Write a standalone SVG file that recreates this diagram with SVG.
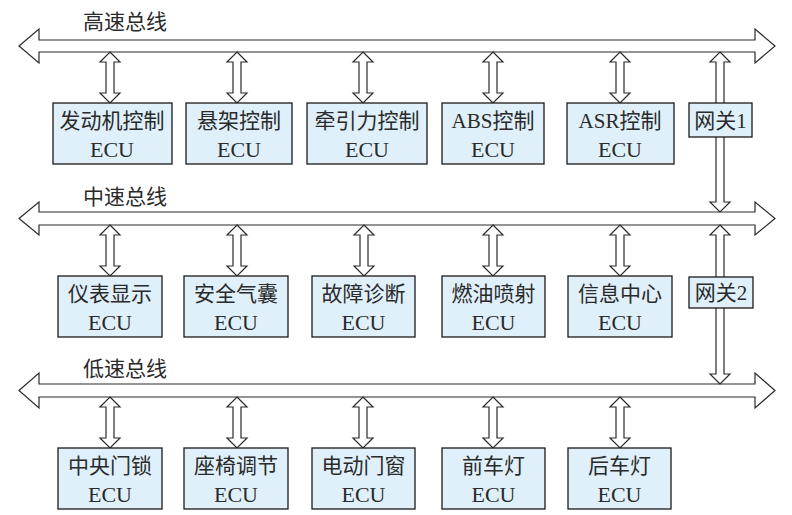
<svg xmlns="http://www.w3.org/2000/svg" width="792" height="515" viewBox="0 0 792 515">
<style>
.bus,.arr{fill:#fff;stroke:#2a2a2a;stroke-width:1.2;stroke-linejoin:miter}
.box{fill:#dff0fa;stroke:#1a1a1a;stroke-width:1.3}
.t{font-family:"Liberation Serif","Noto Sans CJK SC",serif;font-size:21px;fill:#2a2a2a;text-anchor:middle}
.e{font-size:22px}
.lbl{font-family:"Liberation Serif","Noto Sans CJK SC",serif;font-size:21px;fill:#2a2a2a}
</style>
<rect width="792" height="515" fill="#fff"/>
<g id="connectors">
<polygon id="bus-high" class="bus" points="19,46 39,29 39,40 755,40 755,29 775,46 755,63 755,52 39,52 39,63"/>
<polygon id="bus-mid" class="bus" points="19,218.5 39,202 39,212 755,212 755,202 775,218.5 755,235 755,225 39,225 39,235"/>
<polygon id="bus-low" class="bus" points="19,390.5 39,373 39,384 755,384 755,373 775,390.5 755,408 755,397 39,397 39,408"/>
<polygon class="arr" points="110,52 120,62 114,62 114,93 120,93 110,103 100,93 106,93 106,62 100,62"/>
<polygon class="arr" points="237,52 247,62 241,62 241,93 247,93 237,103 227,93 233,93 233,62 227,62"/>
<polygon class="arr" points="363,52 373,62 367,62 367,93 373,93 363,103 353,93 359,93 359,62 353,62"/>
<polygon class="arr" points="493,52 503,62 497,62 497,93 503,93 493,103 483,93 489,93 489,62 483,62"/>
<polygon class="arr" points="620,52 630,62 624,62 624,93 630,93 620,103 610,93 616,93 616,62 610,62"/>
<polygon class="arr" points="720,52 730,62 724,62 724,202 730,202 720,212 710,202 716,202 716,62 710,62"/>
<polygon class="arr" points="110,225 120,235 114,235 114,266 120,266 110,276 100,266 106,266 106,235 100,235"/>
<polygon class="arr" points="237,225 247,235 241,235 241,266 247,266 237,276 227,266 233,266 233,235 227,235"/>
<polygon class="arr" points="364,225 374,235 368,235 368,266 374,266 364,276 354,266 360,266 360,235 354,235"/>
<polygon class="arr" points="493,225 503,235 497,235 497,266 503,266 493,276 483,266 489,266 489,235 483,235"/>
<polygon class="arr" points="620,225 630,235 624,235 624,266 630,266 620,276 610,266 616,266 616,235 610,235"/>
<polygon class="arr" points="720,225 730,235 724,235 724,374 730,374 720,384 710,374 716,374 716,235 710,235"/>
<polygon class="arr" points="110,397 120,407 114,407 114,438 120,438 110,448 100,438 106,438 106,407 100,407"/>
<polygon class="arr" points="237,397 247,407 241,407 241,438 247,438 237,448 227,438 233,438 233,407 227,407"/>
<polygon class="arr" points="363,397 373,407 367,407 367,438 373,438 363,448 353,438 359,438 359,407 353,407"/>
<polygon class="arr" points="493,397 503,407 497,407 497,438 503,438 493,448 483,438 489,438 489,407 483,407"/>
<polygon class="arr" points="620,397 630,407 624,407 624,438 630,438 620,448 610,438 616,438 616,407 610,407"/>
</g>
<g id="bus-labels">
<text class="lbl" x="83" y="29">高速总线</text>
<text class="lbl" x="83" y="204">中速总线</text>
<text class="lbl" x="83" y="376">低速总线</text>
</g>
<g id="n-engine"><rect class="box" x="53" y="103" width="119" height="61"/><text class="t" x="112" y="128">发动机控制</text><text class="t e" x="112" y="157">ECU</text></g>
<g id="n-susp"><rect class="box" x="186" y="103" width="106" height="61"/><text class="t" x="239" y="128">悬架控制</text><text class="t e" x="239" y="157">ECU</text></g>
<g id="n-traction"><rect class="box" x="307" y="103" width="120" height="61"/><text class="t" x="367" y="128">牵引力控制</text><text class="t e" x="367" y="157">ECU</text></g>
<g id="n-abs"><rect class="box" x="442" y="103" width="102" height="61"/><text class="t" x="493" y="128">ABS控制</text><text class="t e" x="493" y="157">ECU</text></g>
<g id="n-asr"><rect class="box" x="567" y="103" width="107" height="61"/><text class="t" x="620" y="128">ASR控制</text><text class="t e" x="620" y="157">ECU</text></g>
<g id="n-gw1"><rect class="box" x="689" y="103" width="63" height="34"/><text class="t" x="720.5" y="128">网关1</text></g>
<g id="n-dash"><rect class="box" x="58" y="276" width="104" height="61"/><text class="t" x="110" y="301">仪表显示</text><text class="t e" x="110" y="330">ECU</text></g>
<g id="n-airbag"><rect class="box" x="184" y="276" width="104" height="61"/><text class="t" x="236" y="301">安全气囊</text><text class="t e" x="236" y="330">ECU</text></g>
<g id="n-diag"><rect class="box" x="312" y="276" width="103" height="61"/><text class="t" x="363.5" y="301">故障诊断</text><text class="t e" x="363.5" y="330">ECU</text></g>
<g id="n-fuel"><rect class="box" x="442" y="276" width="103" height="61"/><text class="t" x="493.5" y="301">燃油喷射</text><text class="t e" x="493.5" y="330">ECU</text></g>
<g id="n-info"><rect class="box" x="568" y="276" width="104" height="61"/><text class="t" x="620" y="301">信息中心</text><text class="t e" x="620" y="330">ECU</text></g>
<g id="n-gw2"><rect class="box" x="689" y="277" width="64" height="31"/><text class="t" x="721" y="300">网关2</text></g>
<g id="n-lock"><rect class="box" x="58" y="448" width="104" height="61"/><text class="t" x="110" y="473">中央门锁</text><text class="t e" x="110" y="502">ECU</text></g>
<g id="n-seat"><rect class="box" x="184" y="448" width="104" height="61"/><text class="t" x="236" y="473">座椅调节</text><text class="t e" x="236" y="502">ECU</text></g>
<g id="n-window"><rect class="box" x="312" y="448" width="103" height="61"/><text class="t" x="363.5" y="473">电动门窗</text><text class="t e" x="363.5" y="502">ECU</text></g>
<g id="n-head"><rect class="box" x="442" y="448" width="103" height="61"/><text class="t" x="493.5" y="473">前车灯</text><text class="t e" x="493.5" y="502">ECU</text></g>
<g id="n-tail"><rect class="box" x="568" y="448" width="103" height="61"/><text class="t" x="619.5" y="473">后车灯</text><text class="t e" x="619.5" y="502">ECU</text></g>
</svg>
